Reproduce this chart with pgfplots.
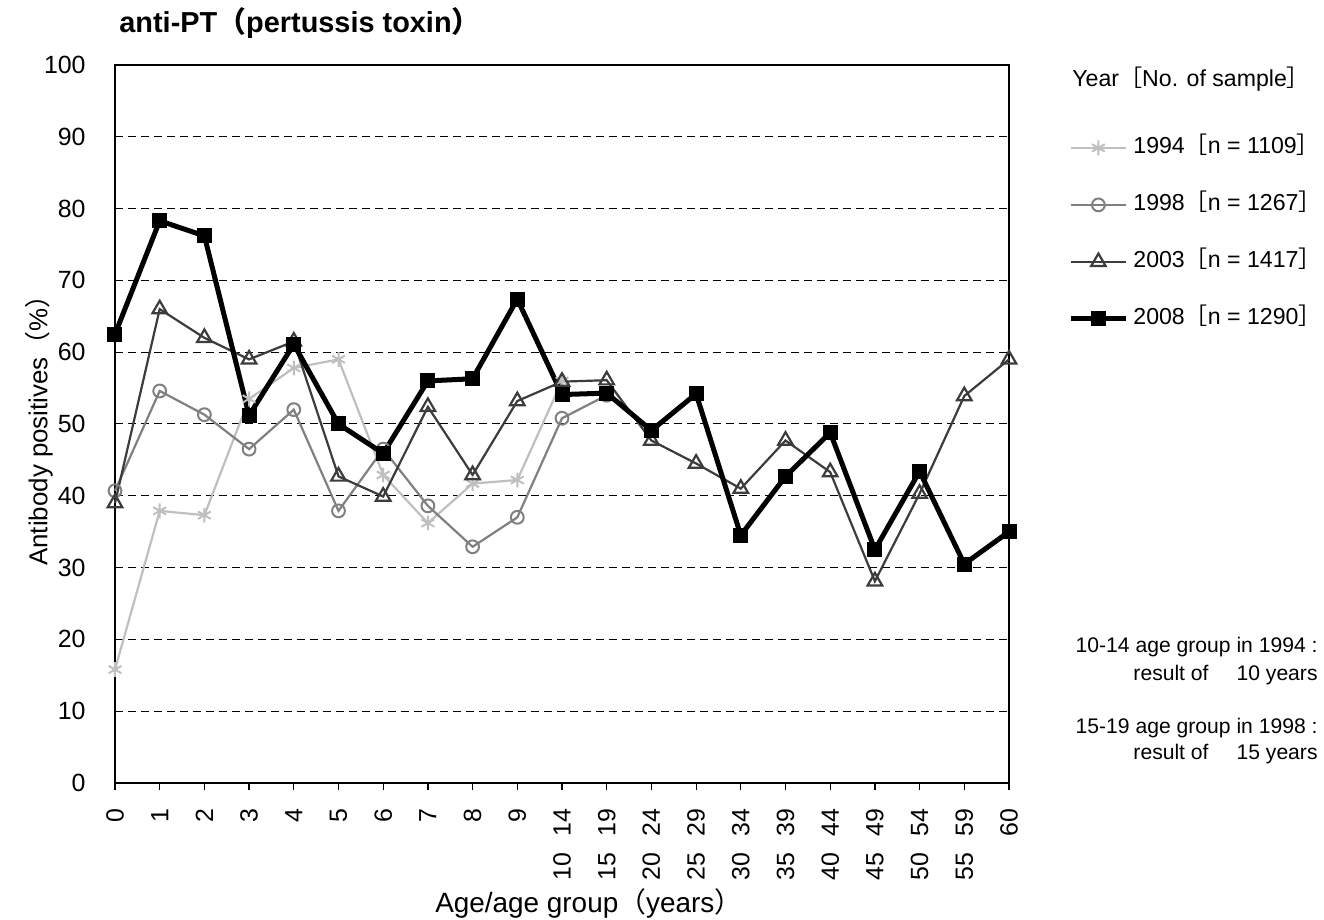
\documentclass[border=0pt]{standalone}
\usepackage{pgfplots}
\usepackage{pgfplotstable}
\pgfplotsset{compat=1.18}
\usepackage{fontspec}
\setmainfont{Liberation Sans}
\newfontfamily\cjk{Noto Sans CJK JP}
\newcommand{\lp}{{\cjk （}}
\newcommand{\rp}{{\cjk ）}}
\newcommand{\lb}{{\cjk ［}}
\newcommand{\rb}{{\cjk ］}}
\newcommand{\rg}[2]{#1\hspace{0.65em}#2}
\definecolor{cA}{RGB}{191,191,191}
\definecolor{cB}{RGB}{128,128,128}
\definecolor{cC}{RGB}{60,60,60}

\pgfplotstableread{
x y
0 15.8
1 37.9
2 37.3
3 53.5
4 57.8
5 59.0
6 42.9
7 36.2
8 41.7
9 42.2
10 56.0
}\dataA
\pgfplotstableread{
x y
0 40.7
1 54.6
2 51.3
3 46.5
4 52.0
5 37.9
6 46.5
7 38.6
8 32.9
9 37.0
10 50.8
11 54.0
}\dataB
\pgfplotstableread{
x y
0 39.0
1 66.0
2 62.0
3 59.0
4 61.5
5 42.7
6 39.9
7 52.4
8 42.9
9 53.2
10 55.9
11 56.1
12 47.7
13 44.5
14 41.0
15 47.7
16 43.3
17 28.1
18 40.3
19 53.9
20 59.0
}\dataC
\pgfplotstableread{
x y
0 62.5
1 78.3
2 76.2
3 51.2
4 61.1
5 50.0
6 45.9
7 56.0
8 56.3
9 67.4
10 54.1
11 54.3
12 49.1
13 54.2
14 34.5
15 42.7
16 48.8
17 32.5
18 43.4
19 30.5
20 35.0
}\dataD

\begin{document}
\begin{tikzpicture}
\begin{axis}[
  width=447bp, height=359bp, scale only axis,
  xmin=0, xmax=20, ymin=0, ymax=100,
  clip=false,
  xtick={0,...,20},
  xticklabels={0,1,2,3,4,5,6,7,8,9,\rg{10}{14},\rg{15}{19},\rg{20}{24},\rg{25}{29},\rg{30}{34},\rg{35}{39},\rg{40}{44},\rg{45}{49},\rg{50}{54},\rg{55}{59},60},
  ytick={0,10,...,100},
  /pgf/number format/assume math mode=true,
  ymajorgrids,
  grid style={black, line width=0.5bp, dash pattern=on 4bp off 2.5bp},
  axis line style={black, line width=0.9bp},
  xtick pos=bottom, ytick pos=left,
  tick align=outside,
  major tick length=3.5bp,
  xtick style={black, line width=0.6bp},
  ytick style={draw=none},
  ticklabel style={font=\fontsize{12.5}{15}\selectfont},
  xticklabel style={rotate=90, anchor=east, inner sep=0pt},
  yticklabel style={anchor=east, inner sep=0pt},
  xticklabel shift=9bp,
  yticklabel shift=11bp,
  xlabel={Age/age group\lp years\rp},
  ylabel={Antibody positives\lp\%\rp},
  xlabel style={font=\fontsize{14}{16}\selectfont, at={(rel axis cs:0.53,-0.1797)}, anchor=base, inner sep=0pt},
  ylabel style={font=\fontsize{13}{15}\selectfont, at={(rel axis cs:-0.0850,0.5)}, anchor=center},
  legend style={at={(rel axis cs:1,1)}, anchor=north west, xshift=29.5bp, yshift=-36bp,
    draw=none, fill=none, inner sep=0pt, row sep=18bp, column sep=2.5bp,
    font=\fontsize{11.6}{13}\selectfont,
    nodes={inner sep=0pt, text height=8bp, text depth=2.5bp}},
  legend cell align=left,
  legend image code/.code={\draw[mark repeat=2,mark phase=2] plot coordinates {(0bp,0bp)(13.75bp,0bp)(27.5bp,0bp)};},
]
\addplot[cA, line width=1.1bp, mark=asterisk, mark size=3.7bp, mark options={solid, line width=1bp}] table[x=x,y=y] {\dataA};
\addlegendentry{1994\lb n = 1109\rb}
\addplot[cB, line width=1.1bp, mark=o, mark size=3.2bp, mark options={solid, line width=1bp}] table[x=x,y=y] {\dataB};
\addlegendentry{1998\lb n = 1267\rb}
\addplot[cC, line width=1.1bp, mark=triangle, mark size=4.2bp, mark options={solid, line width=1.1bp}] table[x=x,y=y] {\dataC};
\addlegendentry{2003\lb n = 1417\rb}
\addplot[black, line width=2.5bp, mark=square*, mark size=3.5bp, mark options={solid, line width=0.5bp}] table[x=x,y=y] {\dataD};
\addlegendentry{2008\lb n = 1290\rb}

\node[anchor=base west, font=\fontsize{11.6}{13}\selectfont, inner sep=0pt] at ([shift={(31.5bp,-10.85bp)}]rel axis cs:1,1) {Year\lb No. of sample\rb};
\node[anchor=base west, font=\bfseries\fontsize{14.5}{16}\selectfont, inner sep=0pt] at ([shift={(2bp,16bp)}]rel axis cs:0,1) {anti-PT\lp pertussis toxin\rp};
\node[anchor=base east, font=\fontsize{10.6}{12}\selectfont, inner sep=0pt] at ([shift={(154.5bp,65.2bp)}]rel axis cs:1,0) {10-14 age group in 1994 :};
\node[anchor=base east, font=\fontsize{10.6}{12}\selectfont, inner sep=0pt] at ([shift={(154.5bp,51.5bp)}]rel axis cs:1,0) {result of\hspace{14bp}10 years};
\node[anchor=base east, font=\fontsize{10.6}{12}\selectfont, inner sep=0pt] at ([shift={(154.5bp,25bp)}]rel axis cs:1,0) {15-19 age group in 1998 :};
\node[anchor=base east, font=\fontsize{10.6}{12}\selectfont, inner sep=0pt] at ([shift={(154.5bp,12bp)}]rel axis cs:1,0) {result of\hspace{14bp}15 years};
\end{axis}
\path ([shift={(-57.5bp,-68.5bp)}]current axis.south west) rectangle ([shift={(157.5bp,32.5bp)}]current axis.north east);
\end{tikzpicture}
\end{document}
